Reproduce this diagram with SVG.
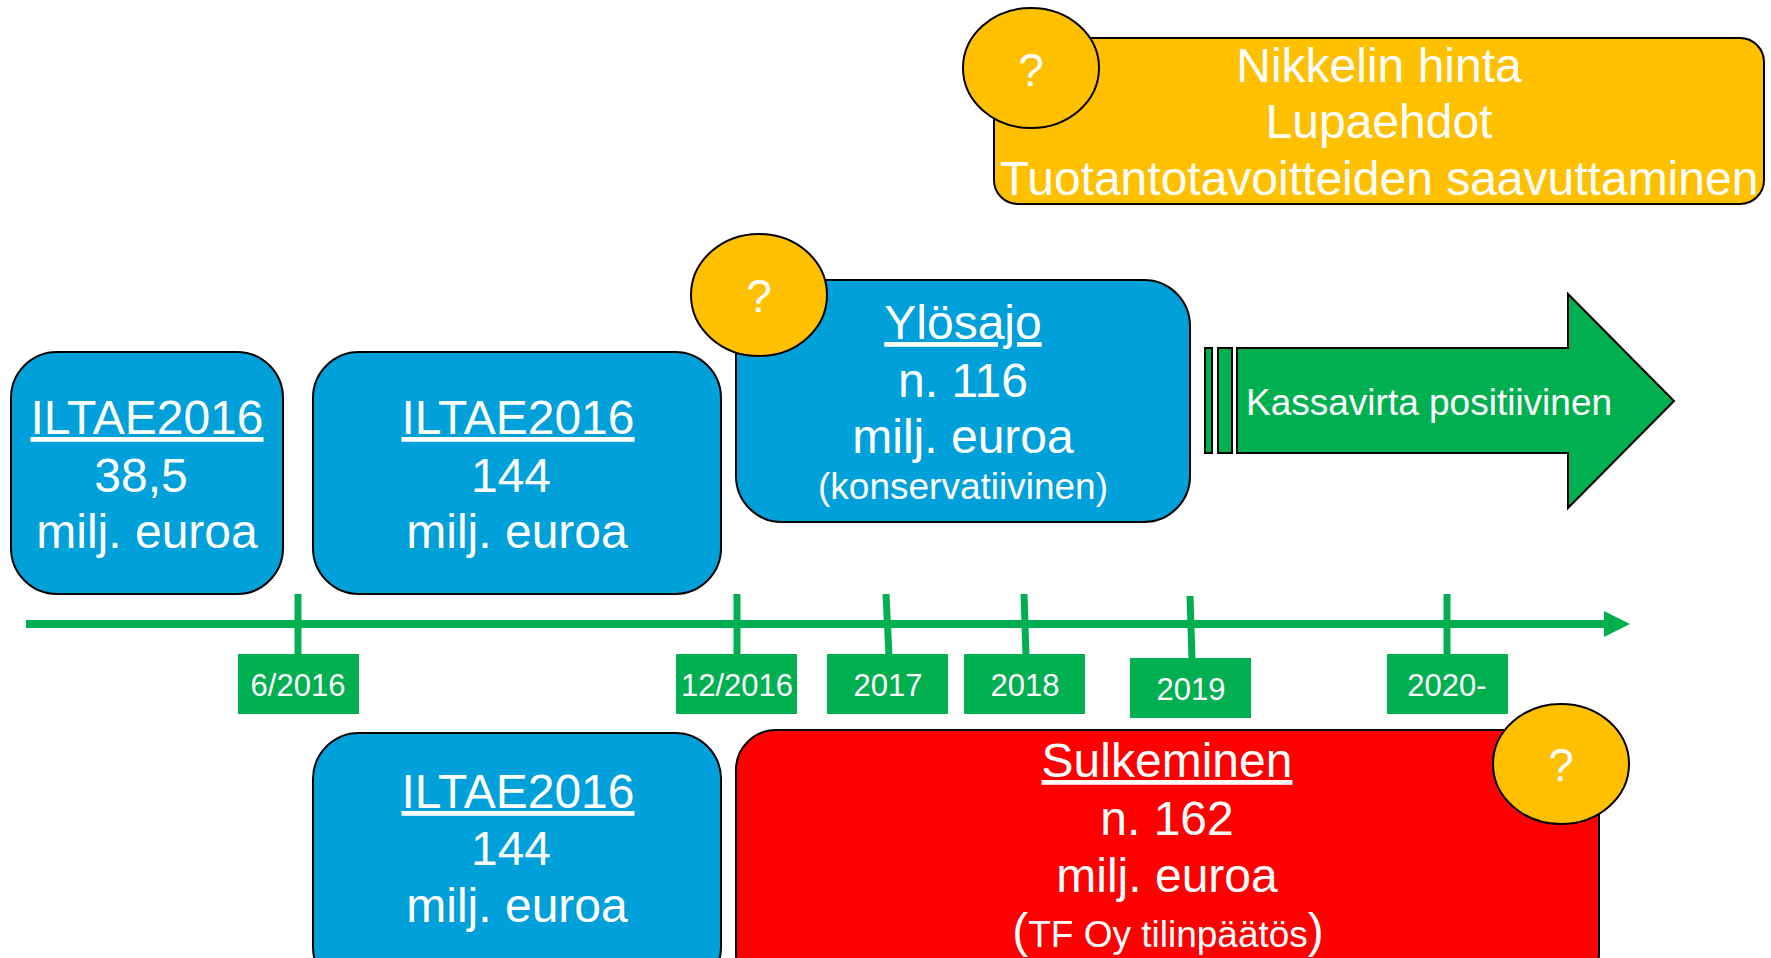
<svg xmlns="http://www.w3.org/2000/svg" width="1771" height="958" viewBox="0 0 1771 958">
<style>
.blue{fill:#00A0DA;stroke:#000;stroke-width:2}
.yel{fill:#FFC000;stroke:#000;stroke-width:2}
.red{fill:#FF0000;stroke:#000;stroke-width:2}
.grn{fill:#00B050;stroke:#000;stroke-width:2}
.lab{fill:#00B050}
.t{font-family:"Liberation Sans",Arial,sans-serif;fill:#fff;text-anchor:middle}
.big{font-size:48px}
.mid{font-size:37px}
.sm{font-size:31px}
.q{font-size:46px}
.u{text-decoration:underline}
.tick{stroke:#00B050;stroke-width:7;fill:none}
</style>
<rect width="1771" height="958" fill="#fff"/>
<g id="connectors">
<line x1="26" y1="624" x2="1606" y2="624" stroke="#00B050" stroke-width="8"/>
<polygon points="1604,611 1630,624 1604,637" fill="#00B050"/>
<line class="tick" x1="298" y1="594" x2="298" y2="656"/>
<line class="tick" x1="737" y1="594" x2="737" y2="656"/>
<line class="tick" x1="886" y1="594" x2="889" y2="656"/>
<line class="tick" x1="1024" y1="594" x2="1026" y2="656"/>
<line class="tick" x1="1190" y1="596" x2="1192" y2="660"/>
<line class="tick" x1="1447" y1="594" x2="1447" y2="656"/>
</g>
<g id="box-iltae-1">
<rect class="blue" x="11" y="352" width="272" height="242" rx="46"/>
<text class="t big u" x="147" y="434">ILTAE2016</text>
<text class="t big" x="141" y="492">38,5</text>
<text class="t big" x="147" y="548">milj. euroa</text>
</g>
<g id="box-iltae-2">
<rect class="blue" x="313" y="352" width="408" height="242" rx="46"/>
<text class="t big u" x="518" y="434">ILTAE2016</text>
<text class="t big" x="511" y="492">144</text>
<text class="t big" x="517" y="548">milj. euroa</text>
</g>
<g id="box-ylosajo">
<rect class="blue" x="736" y="280" width="454" height="242" rx="46"/>
<text class="t big u" x="963" y="339">Ylösajo</text>
<text class="t big" x="963" y="397">n. 116</text>
<text class="t big" x="963" y="453">milj. euroa</text>
<text class="t mid" x="963" y="499">(konservatiivinen)</text>
</g>
<g id="q-ylosajo">
<ellipse class="yel" cx="759" cy="295" rx="68" ry="61"/>
<text class="t q" x="759" y="312">?</text>
</g>
<g id="box-top">
<rect class="yel" x="994" y="38" width="770" height="166" rx="24"/>
<text class="t big" x="1379" y="82">Nikkelin hinta</text>
<text class="t big" x="1379" y="138">Lupaehdot</text>
<text class="t big" x="1379" y="195">Tuotantotavoitteiden saavuttaminen</text>
</g>
<g id="q-top">
<ellipse class="yel" cx="1031" cy="68" rx="68" ry="60"/>
<text class="t q" x="1031" y="86">?</text>
</g>
<g id="arrow-kassavirta">
<rect class="grn" x="1205" y="348" width="7" height="105"/>
<rect class="grn" x="1218" y="348" width="14" height="105"/>
<polygon class="grn" points="1237,348 1568,348 1568,294 1674,401 1568,508 1568,453 1237,453"/>
<text class="t mid" x="1246" y="415" style="text-anchor:start">Kassavirta positiivinen</text>
</g>
<g id="label-6-2016">
<rect class="lab" x="238" y="654" width="121" height="60"/>
<text class="t sm" x="298" y="696">6/2016</text>
</g>
<g id="label-12-2016">
<rect class="lab" x="676" y="654" width="121" height="60"/>
<text class="t sm" x="737" y="696">12/2016</text>
</g>
<g id="label-2017">
<rect class="lab" x="827" y="654" width="121" height="60"/>
<text class="t sm" x="888" y="696">2017</text>
</g>
<g id="label-2018">
<rect class="lab" x="964" y="654" width="121" height="60"/>
<text class="t sm" x="1025" y="696">2018</text>
</g>
<g id="label-2019">
<rect class="lab" x="1130" y="658" width="121" height="60"/>
<text class="t sm" x="1191" y="700">2019</text>
</g>
<g id="label-2020">
<rect class="lab" x="1387" y="654" width="121" height="60"/>
<text class="t sm" x="1447" y="696">2020-</text>
</g>
<g id="box-iltae-3">
<rect class="blue" x="313" y="733" width="408" height="260" rx="46"/>
<text class="t big u" x="518" y="808">ILTAE2016</text>
<text class="t big" x="511" y="865">144</text>
<text class="t big" x="517" y="922">milj. euroa</text>
</g>
<g id="box-sulkeminen">
<rect class="red" x="736" y="730" width="863" height="263" rx="40"/>
<text class="t big u" x="1167" y="777">Sulkeminen</text>
<text class="t big" x="1167" y="835">n. 162</text>
<text class="t big" x="1167" y="892">milj. euroa</text>
<text class="t mid" x="1168" y="947"><tspan class="big">(</tspan>TF Oy tilinpäätös<tspan class="big">)</tspan></text>
</g>
<g id="q-sulkeminen">
<ellipse class="yel" cx="1561" cy="764" rx="68" ry="60"/>
<text class="t q" x="1561" y="781">?</text>
</g>
</svg>
